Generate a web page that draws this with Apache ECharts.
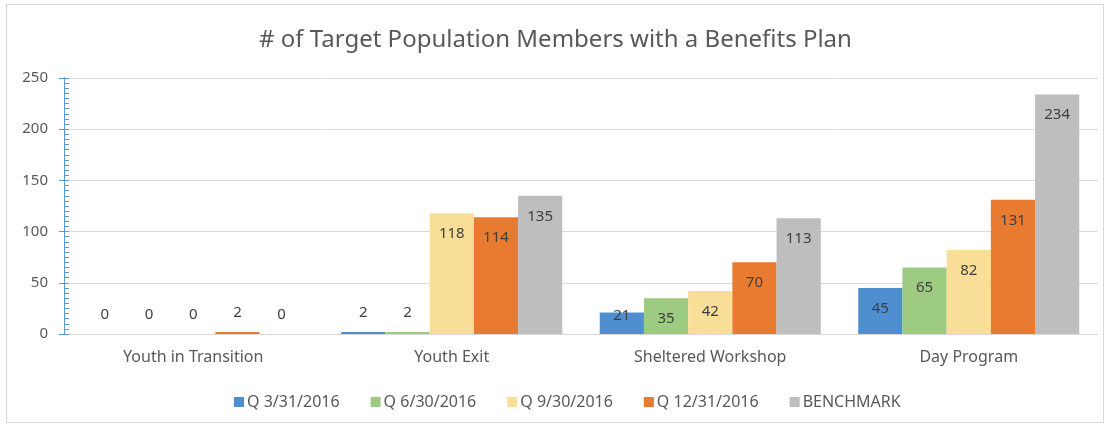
<!DOCTYPE html>
<html>
<head>
<meta charset="utf-8">
<script src="https://cdn.jsdelivr.net/npm/echarts@6/dist/echarts.min.js"></script>
<style>
  html, body { margin: 0; padding: 0; background: #fff; }
  #frame { position: absolute; left: 6px; top: 4px; width: 1098px; height: 419px; border: 1px solid #d9d9d9; box-sizing: border-box; }
  #chart { position: absolute; left: 0; top: 0; width: 1111px; height: 428px; }
</style>
</head>
<body>
<div id="frame"></div>
<div id="chart"></div>
<script>
const categories = ['Youth in Transition', 'Youth Exit', 'Sheltered Workshop', 'Day Program']
const seriesNames = ['Q 3/31/2016', 'Q 6/30/2016', 'Q 9/30/2016', 'Q 12/31/2016', 'BENCHMARK']
const q1 = [0, 2, 21, 45]
const q2 = [0, 2, 35, 65]
const q3 = [0, 118, 42, 82]
const q4 = [2, 114, 70, 131]
const benchmark = [0, 135, 113, 234]
const yTicks = [0, 50, 100, 150, 200, 250]

const colors = ['#4f8fd0', '#9dcb82', '#f8de96', '#e97b30', '#bebebe']
const textColor = '#595959'
const font = '"Noto Sans", "Open Sans", sans-serif'

// Excel puts "inside end" labels that don't fit just above / near the base
function labelFor(v) {
    if (v >= 30) return { position: 'insideTop', distance: 13 }
    if (v >= 10) return { position: 'insideTop', distance: -4 }
    return { position: 'top', distance: 12 }
}

function buildSeries(name, values, i) {
    return {
        name: name,
        type: 'bar',
        barGap: '0%',
        barCategoryGap: '14.5%',
        itemStyle: { color: colors[i] },
        label: { show: true, color: '#404040', fontSize: 15, fontFamily: font },
        data: values.map(v => ({ value: v, label: labelFor(v) }))
    }
}

const chart = echarts.init(document.getElementById('chart'), null, { renderer: 'canvas' })
chart.setOption({
    animation: false,
    textStyle: { fontFamily: font },
    title: {
        text: '# of Target Population Members with a Benefits Plan',
        left: 'center',
        top: 23,
        textStyle: { color: textColor, fontSize: 24, fontWeight: 'normal', fontFamily: font }
    },
    legend: {
        data: seriesNames,
        left: 229,
        top: 389,
        icon: 'rect',
        itemWidth: 10,
        itemHeight: 10,
        itemGap: 31,
        textStyle: { color: textColor, fontSize: 16, fontFamily: font, padding: [0, 0, 0, -2] }
    },
    grid: { left: 64, right: 13, top: 78, bottom: 94 },
    xAxis: {
        type: 'category',
        data: categories,
        axisLine: { lineStyle: { color: '#d9d9d9', width: 1 } },
        axisTick: { show: false },
        axisLabel: { color: textColor, fontSize: 16, margin: 15, fontFamily: font }
    },
    yAxis: [
        {
            type: 'value',
            min: yTicks[0],
            max: yTicks[yTicks.length - 1],
            interval: 50,
            axisLine: { show: true, lineStyle: { color: '#5b9bd5' } },
            axisTick: { show: true, length: 5, lineStyle: { color: '#5b9bd5' } },
            axisLabel: { color: textColor, fontSize: 15, margin: 16, fontFamily: font },
            splitLine: { lineStyle: { color: '#d9d9d9' } }
        },
        {
            type: 'value',
            position: 'left',
            offset: 0,
            min: yTicks[0],
            max: yTicks[yTicks.length - 1],
            interval: 50,
            axisLine: { show: true, lineStyle: { color: '#5b9bd5' } },
            axisTick: { show: true, inside: true, length: 5, lineStyle: { color: '#5b9bd5' } },
            minorTick: { show: true, splitNumber: 10, length: 5, lineStyle: { color: '#5b9bd5' } },
            axisLabel: { show: false },
            splitLine: { show: false }
        }
    ],
    series: [q1, q2, q3, q4, benchmark].map((vals, i) => buildSeries(seriesNames[i], vals, i))
})
</script>
</body>
</html>
